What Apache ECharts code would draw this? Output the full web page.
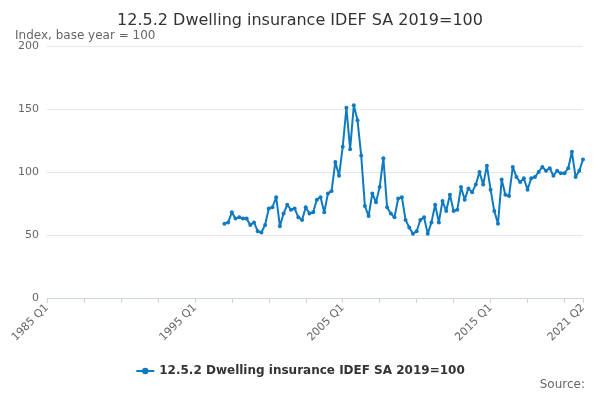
<!DOCTYPE html>
<html lang="en">
<head>
<meta charset="UTF-8">
<title>12.5.2 Dwelling insurance</title>
<script src="https://cdn.jsdelivr.net/npm/echarts@6/dist/echarts.min.js"></script>
<style>html,body{margin:0;padding:0;background:#fff}#chart{width:600px;height:400px}</style>
</head>
<body>
<div id="chart"></div>
<script>
// quarters 1985 Q1 .. 2021 Q2
var quarters = [];
for (var y = 1985; y <= 2021; y++) {
  for (var q = 1; q <= 4; q++) {
    if (y === 2021 && q > 2) break;
    quarters.push(y + ' Q' + q);
  }
}
// values from 1997 Q1 to 2021 Q2
var startIndex = quarters.indexOf('1997 Q1');
var values = [
  59, 60, 68, 63, 64, 63, 63, 58, 60, 53, 52, 58,
  71, 72, 80, 57, 67, 74, 70, 71, 64, 62, 72, 67,
  68, 78, 80, 68, 83, 85, 108, 97, 120, 151, 118, 153,
  141, 113, 73, 65, 83, 76, 88, 111, 72, 67, 64, 79,
  80, 62, 56, 51, 53, 62, 64, 51, 60, 74, 60, 77,
  69, 82, 69, 70, 88, 78, 87, 84, 90, 100, 90, 105,
  86, 69, 59, 94, 82, 81, 104, 96, 92, 95, 86, 95,
  96, 100, 104, 101, 103, 97, 101, 99, 99, 103, 116, 96,
  101, 110
];
var seriesData = quarters.map(function (c, i) {
  return i >= startIndex ? values[i - startIndex] : null;
});
var lastIdx = quarters.length - 1;

var myChart = echarts.init(document.getElementById('chart'));
var option = {
  title: [
    { text: '12.5.2 Dwelling insurance IDEF SA 2019=100', left: 'center', top: 8,
      textStyle: { fontSize: 16, fontWeight: 'normal', color: '#333', fontFamily: 'DejaVu Sans' } },
    { text: 'Index, base year = 100', left: 10, top: 25,
      textStyle: { fontSize: 12, fontWeight: 'normal', color: '#666', fontFamily: 'DejaVu Sans' } },
    { text: 'Source:', right: 10, bottom: 4,
      textStyle: { fontSize: 12, fontWeight: 'normal', color: '#666', fontFamily: 'DejaVu Sans' } }
  ],
  legend: {
    bottom: 18, left: 'center',
    itemWidth: 18, itemHeight: 8,
    textStyle: { fontSize: 12, fontWeight: 'bold', color: '#333', fontFamily: 'DejaVu Sans' },
    data: ['12.5.2 Dwelling insurance IDEF SA 2019=100']
  },
  grid: { left: 47, right: 17, top: 46, bottom: 102 },
  xAxis: {
    type: 'category',
    data: quarters,
    boundaryGap: false,
    axisLine: { lineStyle: { color: '#ccd6eb' } },
    axisTick: { alignWithLabel: true, lineStyle: { color: '#ccd6eb' },
      interval: function (i) { return i % 10 === 0 || i === lastIdx; } },
    axisLabel: {
      rotate: 45, color: '#666', fontSize: 11, fontFamily: 'DejaVu Sans',
      interval: function (i) { return i % 40 === 0 || i === lastIdx; }
    }
  },
  yAxis: {
    type: 'value', min: 0, max: 200, interval: 50,
    axisLabel: { color: '#666', fontSize: 11, fontFamily: 'DejaVu Sans' },
    splitLine: { lineStyle: { color: '#e6e6e6' } }
  },
  series: [{
    name: '12.5.2 Dwelling insurance IDEF SA 2019=100',
    type: 'line',
    data: seriesData,
    showAllSymbol: true,
    symbol: 'circle', symbolSize: 4,
    itemStyle: { color: '#0f7ac0' },
    lineStyle: { width: 2, color: '#0f7ac0' }
  }]
};
myChart.setOption(option);
</script>
</body>
</html>
